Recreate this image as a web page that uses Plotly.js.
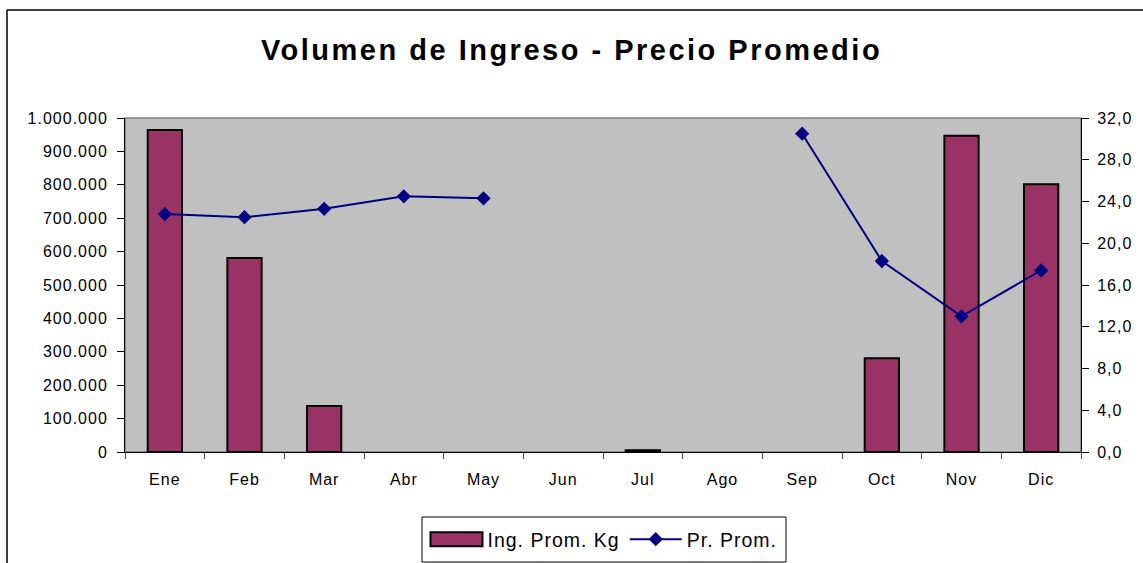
<!DOCTYPE html>
<html>
<head>
<meta charset="utf-8">
<script src="https://cdn.plot.ly/plotly-3.0.1.min.js"></script>
<style>
html,body{margin:0;padding:0;background:#fff;}
#chart{width:1143px;height:563px;}
.xtick text, .ytick text, .y2tick text, .legendtext { letter-spacing: 1px; }
.gtitle { letter-spacing: 2.5px; }
</style>
</head>
<body>
<div id="chart"></div>
<script>
var months = ["Ene","Feb","Mar","Abr","May","Jun","Jul","Ago","Sep","Oct","Nov","Dic"];
var ingresoKg = [964000, 581000, 138000, null, null, null, 5000, null, null, 281000, 947000, 802000];
var precioProm = [22.8, 22.5, 23.3, 24.5, 24.3, null, null, null, 30.5, 18.3, 13.0, 17.4];
var leftTicks = [0,100000,200000,300000,400000,500000,600000,700000,800000,900000,1000000];
var rightTicks = [0,4,8,12,16,20,24,28,32];
var boundaryTicks = [-0.5,0.5,1.5,2.5,3.5,4.5,5.5,6.5,7.5,8.5,9.5,10.5,11.5];

var fontFam = "Liberation Sans, Arial, sans-serif";
var W = 1143, H = 563, L = 125, R = 62, T = 118, B = 111;
var pw = W - L - R, ph = H - T - B;
function px(x){ return (x - L) / pw; }
function py(y){ return (H - B - y) / ph; }

var traces = [
  {
    type: "bar",
    name: "Ing. Prom. Kg",
    x: months,
    y: ingresoKg,
    marker: {color: "#993366", line: {color: "#000000", width: 2}},
    yaxis: "y"
  },
  {
    type: "scatter",
    mode: "lines+markers",
    name: "Pr. Prom.",
    x: months,
    y: precioProm,
    connectgaps: false,
    line: {color: "#000080", width: 2},
    marker: {symbol: "diamond", size: 11, color: "#000080"},
    yaxis: "y2"
  }
];

var tickFont = {family: fontFam, size: 16, color: "#000000"};

var layout = {
  width: W,
  height: H,
  margin: {l: L, r: R, t: T, b: B},
  paper_bgcolor: "#ffffff",
  plot_bgcolor: "#c0c0c0",
  separators: ",.",
  bargap: 0.57,
  font: {family: fontFam, size: 16, color: "#000000"},
  title: {
    text: "<b>Volumen de Ingreso - Precio Promedio</b>",
    font: {family: fontFam, size: 29, color: "#000000"},
    x: 0.5, xanchor: "center",
    y: 1 - 50/563, yref: "container", yanchor: "middle"
  },
  xaxis: {
    type: "category",
    range: [-0.5, 11.5],
    showgrid: false,
    zeroline: false,
    showline: true,
    linecolor: "#000000",
    linewidth: 1,
    ticks: "outside",
    ticklen: 6,
    tickcolor: "#555555",
    tickson: "boundaries",
    ticklabelstandoff: 13,
    tickfont: tickFont,
    fixedrange: true
  },
  xaxis2: {
    overlaying: "x",
    anchor: "y",
    range: [-0.5, 11.5],
    tickvals: boundaryTicks,
    showticklabels: false,
    showgrid: false,
    zeroline: false,
    showline: false,
    ticks: "inside",
    ticklen: 6,
    tickcolor: "#555555",
    fixedrange: true
  },
  yaxis: {
    range: [0, 1000000],
    tickvals: leftTicks,
    tickformat: ",d",
    showgrid: false,
    zeroline: false,
    showline: true,
    linecolor: "#000000",
    linewidth: 1,
    ticks: "outside",
    ticklen: 7,
    tickcolor: "#000000",
    ticklabelstandoff: 6,
    tickfont: tickFont,
    fixedrange: true
  },
  yaxis2: {
    overlaying: "y",
    side: "right",
    range: [0, 32],
    tickvals: rightTicks,
    tickformat: ".1f",
    showgrid: false,
    zeroline: false,
    showline: true,
    linecolor: "#000000",
    linewidth: 1,
    ticks: "outside",
    ticklen: 7,
    tickcolor: "#000000",
    ticklabelstandoff: 5,
    tickfont: tickFont,
    fixedrange: true
  },
  yaxis3: {
    overlaying: "y",
    anchor: "x",
    side: "left",
    range: [0, 1000000],
    tickvals: leftTicks,
    showticklabels: false,
    showgrid: false,
    zeroline: false,
    showline: false,
    ticks: "inside",
    ticklen: 7,
    tickcolor: "#000000",
    fixedrange: true
  },
  yaxis4: {
    overlaying: "y",
    anchor: "x",
    side: "right",
    range: [0, 32],
    tickvals: rightTicks,
    showticklabels: false,
    showgrid: false,
    zeroline: false,
    showline: false,
    ticks: "inside",
    ticklen: 7,
    tickcolor: "#000000",
    fixedrange: true
  },
  showlegend: true,
  legend: {
    orientation: "h",
    xref: "paper",
    x: px(604), xanchor: "center",
    yref: "container",
    y: 1 - 539.5/H, yanchor: "middle",
    bgcolor: "rgba(0,0,0,0)",
    borderwidth: 0,
    font: {family: fontFam, size: 19.5, color: "#000000"},
    itemwidth: 52,
    tracegroupgap: 0
  },
  shapes: [
    {type: "rect", xref: "paper", yref: "paper", x0: 0, x1: 1, y0: 0, y1: 1,
     line: {color: "#808080", width: 1.5}, fillcolor: "rgba(0,0,0,0)", layer: "below"},
    {type: "rect", xref: "paper", yref: "paper",
     x0: px(422), x1: px(786), y0: py(517), y1: py(562),
     line: {color: "#000000", width: 1}, fillcolor: "#ffffff", layer: "above"},
    {type: "line", xref: "paper", yref: "paper",
     x0: px(7), x1: px(7), y0: py(10), y1: py(600),
     line: {color: "#000000", width: 1.5}},
    {type: "line", xref: "paper", yref: "paper",
     x0: px(7), x1: px(1200), y0: py(10), y1: py(10),
     line: {color: "#000000", width: 1.5}}
  ]
};

Plotly.newPlot("chart", traces, layout, {displayModeBar: false, staticPlot: true}).then(function(gd){
  var items = gd.querySelectorAll(".legend .traces");
  if (items.length) {
    items[0].querySelectorAll(".legendpoints path").forEach(function(p){
      p.setAttribute("d", "M26,7H-26V-7H26Z");
    });
  }
});
</script>
</body>
</html>
